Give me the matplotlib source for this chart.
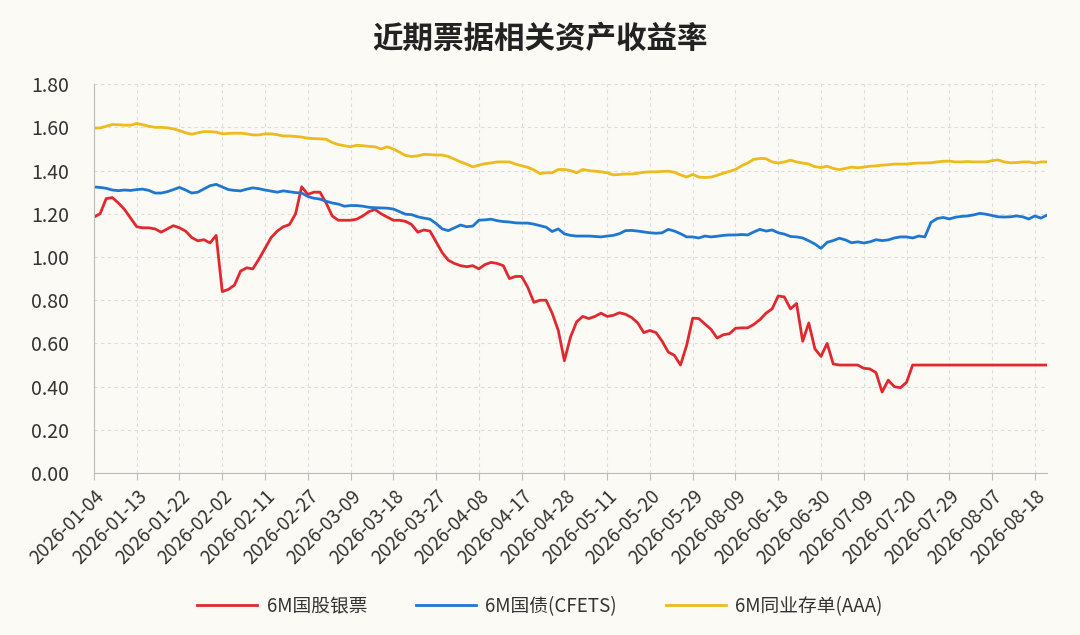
import matplotlib
matplotlib.use("Agg")
import matplotlib.pyplot as plt
import numpy as np

plt.rcParams['font.family'] = ['Noto Sans CJK SC', 'DejaVu Sans']

# 标题与图例
title = "近期票据相关资产收益率"
name_red = "6M国股银票"
name_blue = "6M国债(CFETS)"
name_yellow = "6M同业存单(AAA)"

# x轴标签 (每7个交易日一个)
tick_labels = ["2026-01-04", "2026-01-13", "2026-01-22", "2026-02-02", "2026-02-11",
               "2026-02-27", "2026-03-09", "2026-03-18", "2026-03-27", "2026-04-08",
               "2026-04-17", "2026-04-28", "2026-05-11", "2026-05-20", "2026-05-29",
               "2026-08-09", "2026-06-18", "2026-06-30", "2026-07-09", "2026-07-20",
               "2026-07-29", "2026-08-07", "2026-08-18"]

# 6M国股银票
red = [1.185, 1.20, 1.27, 1.275, 1.25, 1.22, 1.18, 1.14, 1.135, 1.135,
       1.13, 1.115, 1.13, 1.145, 1.135, 1.12, 1.09, 1.075, 1.08, 1.065,
       1.10, 0.84, 0.85, 0.87, 0.935, 0.95, 0.945, 0.99, 1.04, 1.09,
       1.12, 1.14, 1.15, 1.20, 1.325, 1.29, 1.30, 1.30, 1.25, 1.19,
       1.17, 1.17, 1.17, 1.175, 1.19, 1.21, 1.22, 1.20, 1.185, 1.17,
       1.17, 1.165, 1.15, 1.115, 1.125, 1.12, 1.07, 1.02, 0.985, 0.97,
       0.96, 0.955, 0.96, 0.945, 0.965, 0.975, 0.97, 0.96, 0.90, 0.91,
       0.91, 0.86, 0.79, 0.80, 0.80, 0.74, 0.66, 0.52, 0.63, 0.70,
       0.725, 0.715, 0.725, 0.74, 0.725, 0.73, 0.742, 0.735, 0.72, 0.695,
       0.65, 0.66, 0.65, 0.61, 0.56, 0.545, 0.50, 0.59, 0.717, 0.715,
       0.69, 0.665, 0.625, 0.64, 0.645, 0.67, 0.672, 0.672, 0.688, 0.71,
       0.74, 0.76, 0.82, 0.815, 0.76, 0.785, 0.61, 0.695, 0.575, 0.54,
       0.60, 0.505, 0.50, 0.50, 0.50, 0.50, 0.485, 0.482, 0.465, 0.375,
       0.43, 0.40, 0.395, 0.42, 0.50, 0.50, 0.50, 0.50, 0.50, 0.50,
       0.50, 0.50, 0.50, 0.50, 0.50, 0.50, 0.50, 0.50, 0.50, 0.50,
       0.50, 0.50, 0.50, 0.50, 0.50, 0.50, 0.50]

# 6M国债(CFETS)
blue = [1.324, 1.322, 1.318, 1.31, 1.307, 1.31, 1.308, 1.312, 1.314, 1.308,
        1.296, 1.296, 1.302, 1.312, 1.322, 1.31, 1.296, 1.30, 1.315, 1.33,
        1.336, 1.324, 1.312, 1.308, 1.306, 1.314, 1.32, 1.316, 1.31, 1.305,
        1.30, 1.306, 1.302, 1.298, 1.296, 1.28, 1.272, 1.268, 1.258, 1.25,
        1.245, 1.235, 1.238, 1.238, 1.235, 1.23, 1.228, 1.227, 1.226, 1.222,
        1.21, 1.198, 1.196, 1.186, 1.18, 1.175, 1.155, 1.13, 1.122, 1.135,
        1.148, 1.14, 1.143, 1.17, 1.172, 1.175, 1.168, 1.164, 1.162, 1.158,
        1.157, 1.157, 1.152, 1.145, 1.138, 1.118, 1.13, 1.107, 1.10, 1.097,
        1.097, 1.097, 1.095, 1.093, 1.097, 1.10, 1.108, 1.122, 1.123, 1.12,
        1.116, 1.112, 1.11, 1.112, 1.128, 1.12, 1.108, 1.093, 1.093, 1.088,
        1.097, 1.093, 1.096, 1.10, 1.102, 1.102, 1.104, 1.102, 1.116, 1.128,
        1.12, 1.125, 1.112, 1.106, 1.095, 1.093, 1.088, 1.075, 1.06, 1.04,
        1.068, 1.076, 1.087, 1.079, 1.066, 1.07, 1.065, 1.07, 1.08, 1.076,
        1.079, 1.088, 1.093, 1.093, 1.088, 1.097, 1.093, 1.16, 1.178, 1.183,
        1.176, 1.184, 1.188, 1.19, 1.195, 1.202, 1.198, 1.192, 1.186, 1.185,
        1.186, 1.19, 1.186, 1.176, 1.19, 1.18, 1.194]

# 6M同业存单(AAA)
yellow = [1.597, 1.597, 1.605, 1.613, 1.612, 1.61, 1.61, 1.618, 1.612, 1.605,
          1.60, 1.60, 1.598, 1.593, 1.585, 1.575, 1.568, 1.575, 1.58, 1.58,
          1.578, 1.57, 1.572, 1.573, 1.573, 1.57, 1.565, 1.565, 1.57, 1.57,
          1.566, 1.56, 1.56, 1.558, 1.555, 1.55, 1.548, 1.547, 1.545, 1.53,
          1.52, 1.515, 1.51, 1.517, 1.515, 1.512, 1.51, 1.50, 1.51, 1.50,
          1.485, 1.47, 1.465, 1.468, 1.475, 1.474, 1.472, 1.472, 1.465, 1.453,
          1.44, 1.43, 1.417, 1.425, 1.432, 1.435, 1.44, 1.44, 1.44, 1.43,
          1.422, 1.415, 1.403, 1.386, 1.39, 1.39, 1.405, 1.405, 1.40, 1.39,
          1.405, 1.40, 1.397, 1.394, 1.39, 1.38, 1.382, 1.384, 1.384, 1.388,
          1.392, 1.394, 1.394, 1.396, 1.397, 1.392, 1.38, 1.37, 1.382, 1.37,
          1.368, 1.37, 1.378, 1.388, 1.396, 1.405, 1.422, 1.435, 1.452, 1.456,
          1.455, 1.44, 1.435, 1.44, 1.448, 1.44, 1.435, 1.43, 1.418, 1.414,
          1.42, 1.41, 1.404, 1.41, 1.416, 1.413, 1.416, 1.42, 1.422, 1.425,
          1.427, 1.43, 1.43, 1.43, 1.433, 1.435, 1.435, 1.436, 1.44, 1.443,
          1.444, 1.44, 1.44, 1.442, 1.44, 1.44, 1.44, 1.446, 1.449, 1.44,
          1.436, 1.437, 1.44, 1.44, 1.435, 1.44, 1.44]

x = np.arange(len(red))
bg = '#FBFAF5'

fig = plt.figure(figsize=(10.8, 6.35), dpi=100, facecolor=bg)
ax = fig.add_axes([0.087, 0.255, 0.8825, 0.6125], facecolor=bg)

ax.plot(x, red, color='#E0282E', lw=2.0, label=name_red)
ax.plot(x, blue, color='#1E78D2', lw=2.0, label=name_blue)
ax.plot(x, yellow, color='#EDBB1C', lw=2.0, label=name_yellow)

# 坐标轴
ax.set_xlim(0, len(red) - 1)
ax.set_ylim(0, 1.8)
ax.set_yticks(np.arange(0, 1.81, 0.2))
ax.set_yticklabels(["%.2f" % v for v in np.arange(0, 1.81, 0.2)])
ax.set_xticks(np.arange(0, len(red), 7)[:len(tick_labels)])
ax.set_xticklabels(tick_labels, rotation=45, ha='right', rotation_mode='anchor')

ax.tick_params(axis='y', length=0, labelsize=14, colors='#333333', pad=18)
ax.tick_params(axis='x', length=5, color='#BBBBBB', labelsize=13.5, labelcolor='#333333', pad=4)

for s in ['top', 'right']:
    ax.spines[s].set_visible(False)
ax.spines['left'].set_color('#BBBBBB')
ax.spines['bottom'].set_color('#BBBBBB')

ax.grid(True, linestyle=(0, (3, 3)), color='#DDDDDD', lw=0.8)
ax.set_axisbelow(True)

fig.text(0.5, 0.938, title, ha='center', va='center', fontsize=22, fontweight='bold', color='#222222')

fig.legend(loc='center', bbox_to_anchor=(0.5, 0.045), ncol=3, frameon=False,
           fontsize=13.5, handlelength=3.2, columnspacing=2.6, handletextpad=0.5,
           labelcolor='#333333')

fig.savefig('out.png', dpi=100, facecolor=bg)
